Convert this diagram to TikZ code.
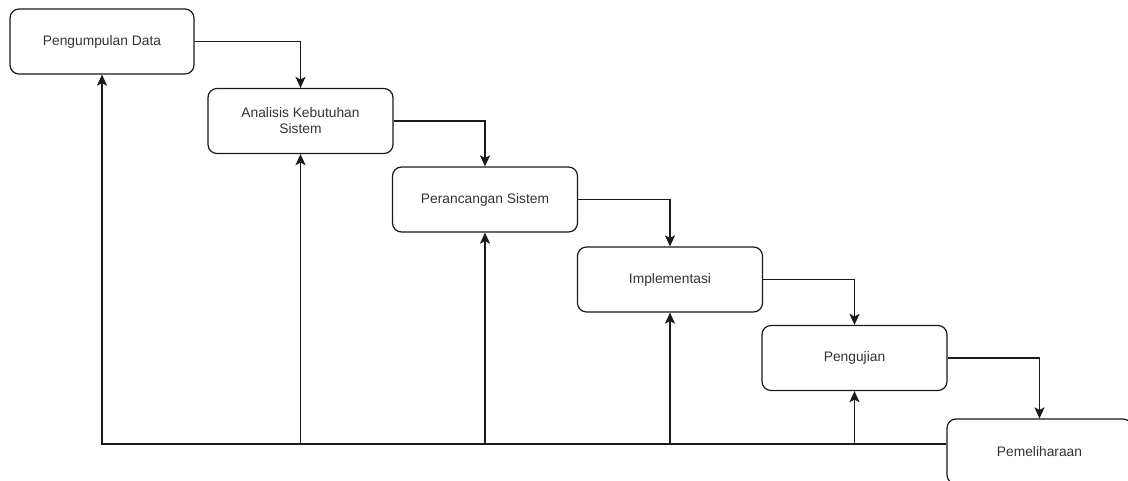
\documentclass[tikz,border=0pt]{standalone}
\usepackage{fontspec}
\setmainfont{Liberation Sans}
\usetikzlibrary{arrows.meta,positioning}
\definecolor{linegray}{HTML}{1A1A1A}
\definecolor{textgray}{HTML}{333333}

\tikzset{
  stage/.style={draw=linegray, rounded corners=9pt, minimum width=185pt,
    minimum height=65pt, align=center, text=textgray, line width=1.2pt,
    font=\fontsize{13.8}{16}\selectfont},
  flow/.style={draw=linegray, line width=1.2pt, -{Stealth[length=11pt,width=10pt,inset=2.5pt]}}
}

\begin{document}
\begin{tikzpicture}[x=1pt, y=-1pt]
    \clip (0,0) rectangle (1128,480);
    \fill[white] (0,0) rectangle (1128,480);
    % tahapan waterfall
    \node[stage, minimum width=184pt] (pengumpulan) at (102,41.5) {Pengumpulan Data};
    \node[stage] (analisis) at (300.5,121) {Analisis Kebutuhan\\Sistem};
    \node[stage] (perancangan) at (485,199.5) {Perancangan Sistem};
    \node[stage] (implementasi) at (670,279.5) {Implementasi};
    \node[stage] (pengujian) at (854.5,358) {Pengujian};
    \node[stage] (pemeliharaan) at (1039.5,451.5) {Pemeliharaan};
    % alur maju
    \draw[flow] (pengumpulan.east) -| (analisis.north);
    \draw[flow] (analisis.east) -| (perancangan.north);
    \draw[flow] (perancangan.east) -| (implementasi.north);
    \draw[flow] (implementasi.east) -| (pengujian.north);
    \draw[flow] (pengujian.east) -| (pemeliharaan.north);
    % alur balik
    \coordinate (balik) at ([yshift=7.5pt]pemeliharaan.west);
    \draw[flow] (balik) -| (pengumpulan.south);
    \foreach \n in {analisis,perancangan,implementasi,pengujian}
      \draw[flow] (\n.south |- balik) -- (\n.south);
\end{tikzpicture}
\end{document}
